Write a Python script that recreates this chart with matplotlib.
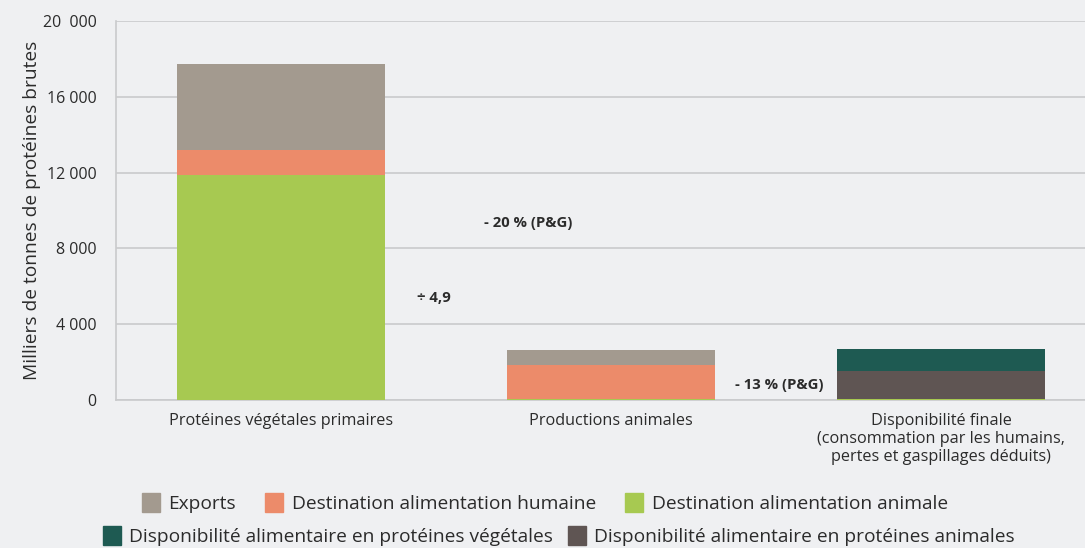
import numpy as np
import matplotlib
matplotlib.use("Agg")
import matplotlib.pyplot as plt
from matplotlib.patches import Patch

plt.rcParams['font.family'] = ['Open Sans', 'DejaVu Sans']

# categories and values (milliers de tonnes de protéines brutes)
categories = ["Protéines végétales primaires", "Productions animales",
              "Disponibilité finale\n(consommation par les humains,\npertes et gaspillages déduits)"]
dest_animale = [11880, 40, 30]
dest_humaine = [1320, 1810, 0]
exports = [4500, 790, 0]
dispo_animales = [0, 0, 1500]
dispo_vegetales = [0, 0, 1140]

series_names = ["Exports", "Destination alimentation humaine", "Destination alimentation animale",
                "Disponibilité alimentaire en protéines végétales",
                "Disponibilité alimentaire en protéines animales"]
colors = {"exports": "#a39a8f", "humaine": "#ec8b6a", "animale": "#a7c951",
          "vegetales": "#1e5a52", "animales": "#5f5553"}

yticks = [0, 4000, 8000, 12000, 16000, 20000]
ytick_labels = ["0", "4 000", "8 000", "12 000", "16 000", "20  000"]

bg = "#eff0f2"
txt = "#2b2b2b"

fig = plt.figure(figsize=(10.85, 5.48), dpi=100, facecolor=bg)
ax = fig.add_axes([0.107, 0.27, 0.893, 0.692], facecolor=bg)

x = np.arange(len(categories))
w = 0.63
bottom = np.zeros(len(categories))
for vals, key in [(dest_animale, "animale"), (dest_humaine, "humaine"), (exports, "exports"),
                  (dispo_animales, "animales"), (dispo_vegetales, "vegetales")]:
    ax.bar(x, vals, w, bottom=bottom, color=colors[key], linewidth=0, zorder=3)
    bottom += np.array(vals)

ax.set_xlim(-0.5, 2.435)
ax.set_ylim(0, 20000)
ax.set_yticks(yticks)
ax.set_yticklabels(ytick_labels, fontsize=11.5, color=txt)
ax.set_xticks(x)
ax.set_xticklabels(categories, fontsize=11.7, color=txt, linespacing=1.2)
ax.tick_params(axis='x', length=0, pad=9)
ax.tick_params(axis='y', length=0, pad=14)
ax.yaxis.grid(True, color="#c9cacc", linewidth=1.2, zorder=0)
for s in ["top", "right"]:
    ax.spines[s].set_visible(False)
ax.spines["left"].set_color("#c9cacc")
ax.spines["bottom"].set_color("#c9cacc")
ax.spines["left"].set_linewidth(1.2)
ax.spines["bottom"].set_linewidth(1.2)
ax.set_ylabel("Milliers de tonnes de protéines brutes", fontsize=13.8, color=txt, labelpad=1)

# annotations
ax.text(0.41, 5400, "÷ 4,9", fontsize=10.7, fontweight="bold", color=txt, va="center")
ax.text(0.615, 9350, "- 20 % (P&G)", fontsize=10.7, fontweight="bold", color=txt, va="center")
ax.text(1.375, 780, "- 13 % (P&G)", fontsize=10.7, fontweight="bold", color=txt, va="center")

# legends (two rows)
h1 = [Patch(color=colors["exports"]), Patch(color=colors["humaine"]), Patch(color=colors["animale"])]
h2 = [Patch(color=colors["vegetales"]), Patch(color=colors["animales"])]
leg_kw = dict(loc="center", frameon=False, fontsize=13.8, handlelength=0.95, handleheight=1.15,
              handletextpad=0.45, labelcolor=txt)
fig.legend(h1, series_names[:3], bbox_to_anchor=(0.502, 0.082), ncol=3, columnspacing=1.5, **leg_kw)
fig.legend(h2, series_names[3:], bbox_to_anchor=(0.515, 0.022), ncol=2, columnspacing=0.75, **leg_kw)

fig.savefig("out.png", dpi=100, facecolor=bg)
